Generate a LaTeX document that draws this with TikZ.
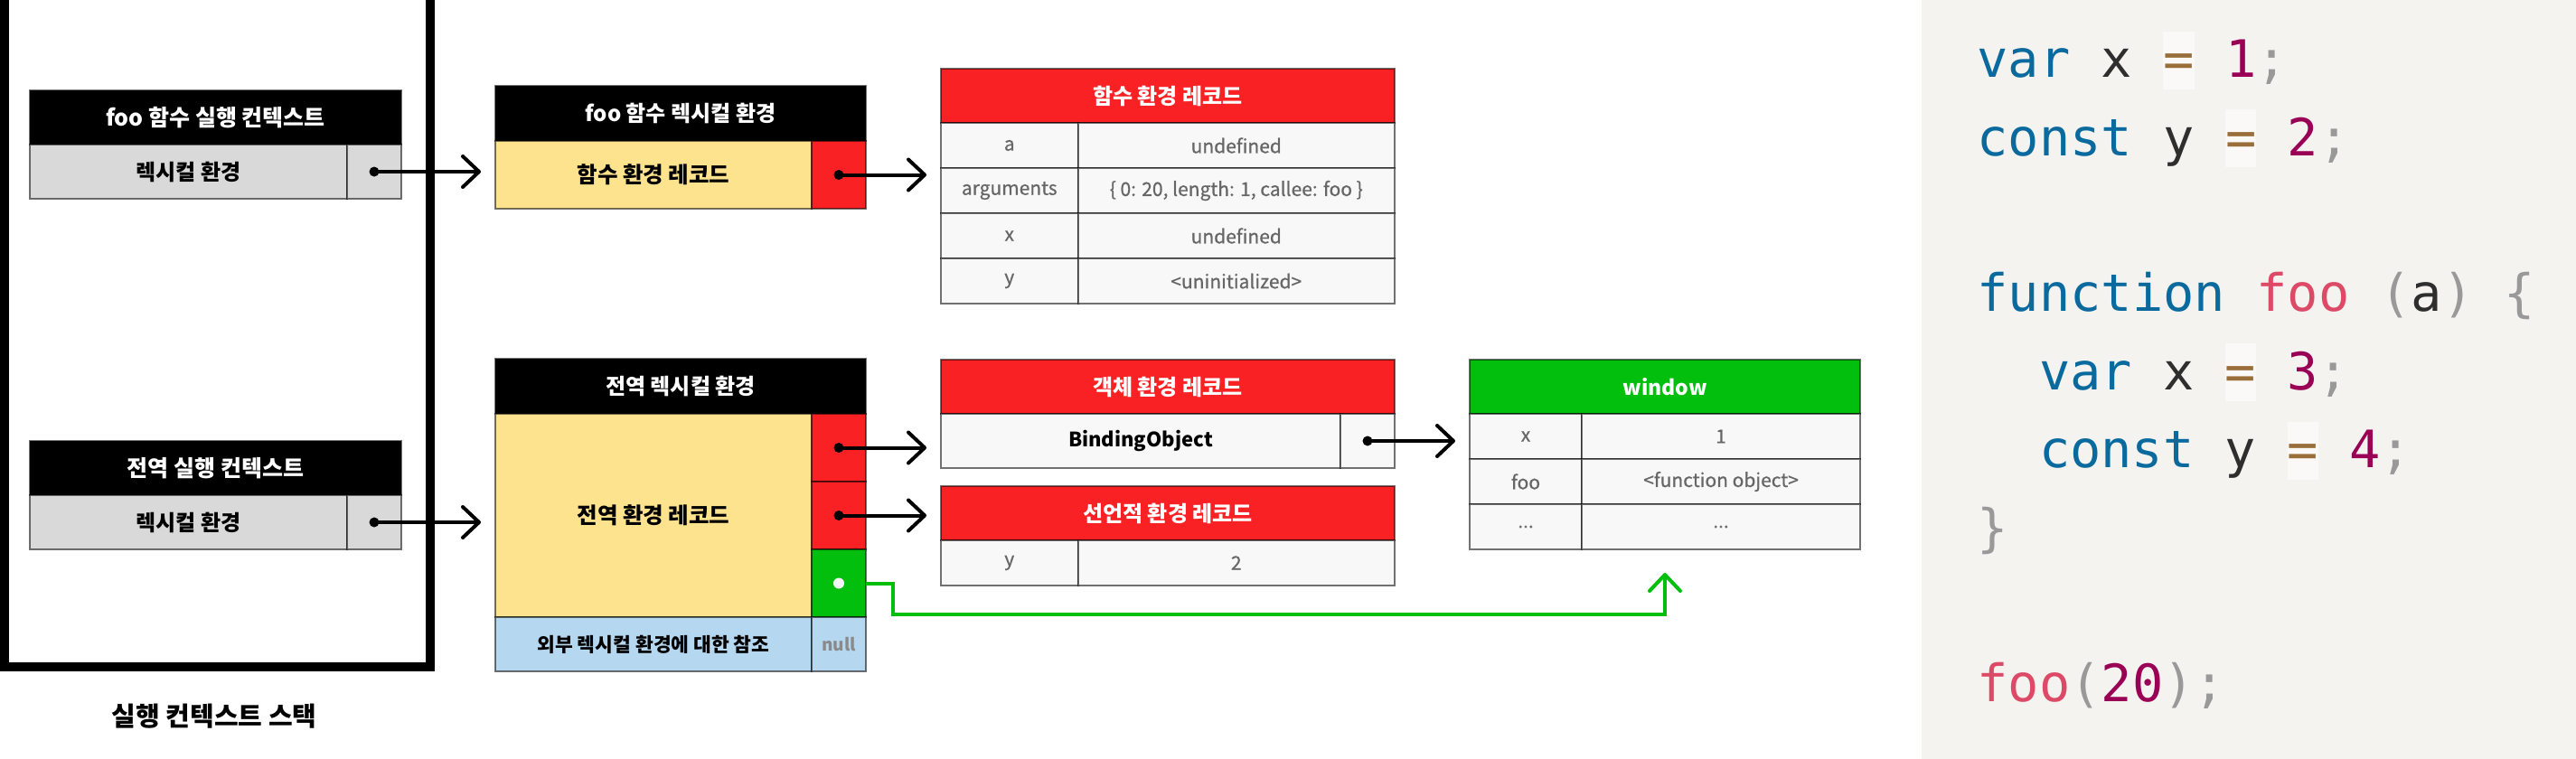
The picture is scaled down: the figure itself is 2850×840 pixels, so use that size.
\documentclass[tikz,border=0pt]{standalone}
\usepackage{fontspec}
\usetikzlibrary{arrows.meta}
\newfontfamily\kr{Noto Sans CJK KR}
\newfontfamily\krmed{Noto Sans CJK KR}[FakeBold=1.8]
\newfontfamily\codefont{DejaVu Sans Mono}
\definecolor{ctxgray}{HTML}{D9D9D9}
\definecolor{envyellow}{HTML}{FEE38E}
\definecolor{recred}{HTML}{FA2125}
\definecolor{wingreen}{HTML}{02BF0E}
\definecolor{refblue}{HTML}{B6D7F0}
\definecolor{tcell}{HTML}{F8F8F8}
\definecolor{txtgray}{HTML}{666666}
\definecolor{nullgray}{HTML}{8A8A8A}
\definecolor{codebg}{HTML}{F5F3F0}
\definecolor{opbg}{HTML}{FAF9F7}
\definecolor{kwc}{HTML}{0A6A9E}
\definecolor{fnc}{HTML}{DD4A68}
\definecolor{numc}{HTML}{990055}
\definecolor{opc}{HTML}{9A6E3A}
\definecolor{puc}{HTML}{999999}
\definecolor{codeplain}{HTML}{2E2E2E}
\newcommand\cKw[1]{\textcolor{kwc}{#1}}
\newcommand\cFn[1]{\textcolor{fnc}{#1}}
\newcommand\cNum[1]{\textcolor{numc}{#1}}
\newcommand\cPu[1]{\textcolor{puc}{#1}}
\newcommand\cOp{{\setlength\fboxsep{0pt}\colorbox{opbg}{\rule[-13pt]{0pt}{64pt}\textcolor{opc}{=}}}}
\tikzset{
  cellbase/.style={draw=black, draw opacity=0.55, line width=2pt, inner sep=0pt, outer sep=0pt, anchor=north west, align=center},
  sz/.style 2 args={minimum width=#1pt, minimum height=#2pt},
  boldfont/.style={font=\kr\bfseries\fontsize{#1}{#1}\selectfont},
  hdrbox/.style={cellbase, fill=black, text=white, boldfont=24},
  ctxrow/.style={cellbase, fill=ctxgray, text=black, boldfont=24},
  yelbox/.style={cellbase, fill=envyellow, text=black, boldfont=24.5},
  redhdr/.style={cellbase, fill=recred, text=white, boldfont=24},
  redcell/.style={cellbase, fill=recred},
  grnhdr/.style={cellbase, fill=wingreen, text=white, boldfont=23},
  grncell/.style={cellbase, fill=wingreen},
  bluebox/.style={cellbase, fill=refblue, text=black, boldfont=21.5},
  tcellbox/.style={cellbase, fill=tcell, text=txtgray, font=\krmed\fontsize{21}{25}\selectfont},
  ptr/.style={circle, fill=black, inner sep=0pt, minimum size=11pt},
  ptrw/.style={circle, fill=white!96!black, inner sep=0pt, minimum size=12pt},
  arr/.style={line width=4pt, -{Straight Barb[length=18pt, width=34pt, round]}, shorten >=16pt},
  garr/.style={line width=4pt, draw=wingreen, line join=miter, -{Straight Barb[length=18pt, width=34pt, round]}, shorten >=26pt},
  stackframe/.style={line width=10pt, line join=miter},
  codeline/.style={anchor=base west, inner sep=0pt, outer sep=0pt, font=\codefont\fontsize{57}{64}\selectfont, text=codeplain},
}
\begin{document}
\begin{tikzpicture}[x=1pt, y=-1pt]
\useasboundingbox (0,0) rectangle (2850,840);
\fill[white] (0,0) rectangle (2850,840);

% execution context stack
\draw[stackframe] (5,-20) -- (5,738) -- (476,738) -- (476,-20);
\node[hdrbox, sz={411}{60}, boldfont=25] (ctx1h) at (33,100) {foo 함수 실행 컨텍스트};
\node[ctxrow, sz={351}{60}] (ctx1r) at (33,160) {렉시컬 환경};
\node[ctxrow, sz={60}{60}] (ctx1p) at (384,160) {};
\node[hdrbox, sz={411}{60}, boldfont=25] (ctx2h) at (33,488) {전역 실행 컨텍스트};
\node[ctxrow, sz={351}{60}] (ctx2r) at (33,548) {렉시컬 환경};
\node[ctxrow, sz={60}{60}] (ctx2p) at (384,548) {};
\node[boldfont=29, inner sep=0pt] (stacklbl) at (237,793) {실행 컨텍스트 스택};

% foo lexical environment
\node[hdrbox, sz={410}{61}] (fenvh) at (548,95) {foo 함수 렉시컬 환경};
\node[yelbox, sz={350}{75}] (fenvr) at (548,156) {함수 환경 레코드};
\node[redcell, sz={60}{75}] (fenvp) at (898,156) {};

% function environment record table
\node[redhdr, sz={502}{60}] (ftabh) at (1041,76) {함수 환경 레코드};
\node[tcellbox, sz={151.5}{50}] (fk1) at (1041,136) {a};
\node[tcellbox, sz={350.5}{50}] (fv1) at (1192.5,136) {undefined};
\node[tcellbox, sz={151.5}{50}] (fk2) at (1041,186) {arguments};
\node[tcellbox, sz={350.5}{50}] (fv2) at (1192.5,186) {\{ 0: 20, length: 1, callee: foo \}};
\node[tcellbox, sz={151.5}{50}] (fk3) at (1041,236) {x};
\node[tcellbox, sz={350.5}{50}] (fv3) at (1192.5,236) {undefined};
\node[tcellbox, sz={151.5}{50}] (fk4) at (1041,286) {y};
\node[tcellbox, sz={350.5}{50}] (fv4) at (1192.5,286) {<uninitialized>};

% global lexical environment
\node[hdrbox, sz={410}{61}] (genvh) at (548,397) {전역 렉시컬 환경};
\node[yelbox, sz={350}{225}] (genvr) at (548,458) {전역 환경 레코드};
\node[redcell, sz={60}{75}] (gp1) at (898,458) {};
\node[redcell, sz={60}{75}] (gp2) at (898,533) {};
\node[grncell, sz={60}{75}] (gp3) at (898,608) {};
\node[bluebox, sz={350}{60}] (gouter) at (548,683) {외부 렉시컬 환경에 대한 참조};
\node[bluebox, sz={60}{60}, text=nullgray, boldfont=19] (gnull) at (898,683) {null};

% object environment record
\node[redhdr, sz={502}{60}] (oh) at (1041,398) {객체 환경 레코드};
\node[tcellbox, sz={442}{60}, text=black, boldfont=22] (ob) at (1041,458) {BindingObject};
\node[tcellbox, sz={60}{60}] (op) at (1483,458) {};

% declarative environment record
\node[redhdr, sz={502}{60}] (dh) at (1041,538) {선언적 환경 레코드};
\node[tcellbox, sz={151.5}{50}] (dk) at (1041,598) {y};
\node[tcellbox, sz={350.5}{50}] (dv) at (1192.5,598) {2};

% window object
\node[grnhdr, sz={432}{60}] (wh) at (1626,398) {window};
\node[tcellbox, sz={124}{50}] (wk1) at (1626,458) {x};
\node[tcellbox, sz={308}{50}] (wv1) at (1750,458) {1};
\node[tcellbox, sz={124}{50}] (wk2) at (1626,508) {foo};
\node[tcellbox, sz={308}{50}] (wv2) at (1750,508) {<function object>};
\node[tcellbox, sz={124}{50}] (wk3) at (1626,558) {...};
\node[tcellbox, sz={308}{50}] (wv3) at (1750,558) {...};
\coordinate (wbottom) at (wh.south |- wv3.south);

% pointers
\node[ptr] (d1) at (ctx1p.center) {};
\node[ptr] (d2) at (fenvp.center) {};
\node[ptr] (d3) at (gp1.center) {};
\node[ptr] (d4) at (gp2.center) {};
\node[ptr] (d5) at (ctx2p.center) {};
\node[ptr] (d6) at (op.center) {};
\node[ptrw] (d7) at (gp3.center) {};

\draw[arr] (d1.center) -- (d1 -| fenvr.west);
\draw[arr] (d2.center) -- (d2 -| ftabh.west);
\draw[arr] (d3.center) -- (d3 -| oh.west);
\draw[arr] (d4.center) -- (d4 -| dh.west);
\draw[arr] (d5.center) -- (d5 -| genvr.west);
\draw[arr] (d6.center) -- (d6 -| wh.west);
\draw[garr] (gp3.east) -- ++(30,0) -- ++(0,34) -| (wbottom);

% code panel
\fill[codebg] (2126,0) rectangle (2850,840);
\node[codeline] (c1) at (2187.5,85.7) {\cKw{var} x \cOp{} \cNum{1}\cPu{;}};
\node[codeline] (c2) at (2187.5,172.1) {\cKw{const} y \cOp{} \cNum{2}\cPu{;}};
\node[codeline] (c4) at (2187.5,344.9) {\cKw{function} \cFn{foo} \cPu{(}a\cPu{)} \cPu{\{}};
\node[codeline] (c5) at (2256,431.3) {\cKw{var} x \cOp{} \cNum{3}\cPu{;}};
\node[codeline] (c6) at (2256,517.7) {\cKw{const} y \cOp{} \cNum{4}\cPu{;}};
\node[codeline] (c7) at (2187.5,604.1) {\cPu{\}}};
\node[codeline] (c9) at (2187.5,776.9) {\cFn{foo}\cPu{(}\cNum{20}\cPu{)}\cPu{;}};
\end{tikzpicture}
\end{document}
